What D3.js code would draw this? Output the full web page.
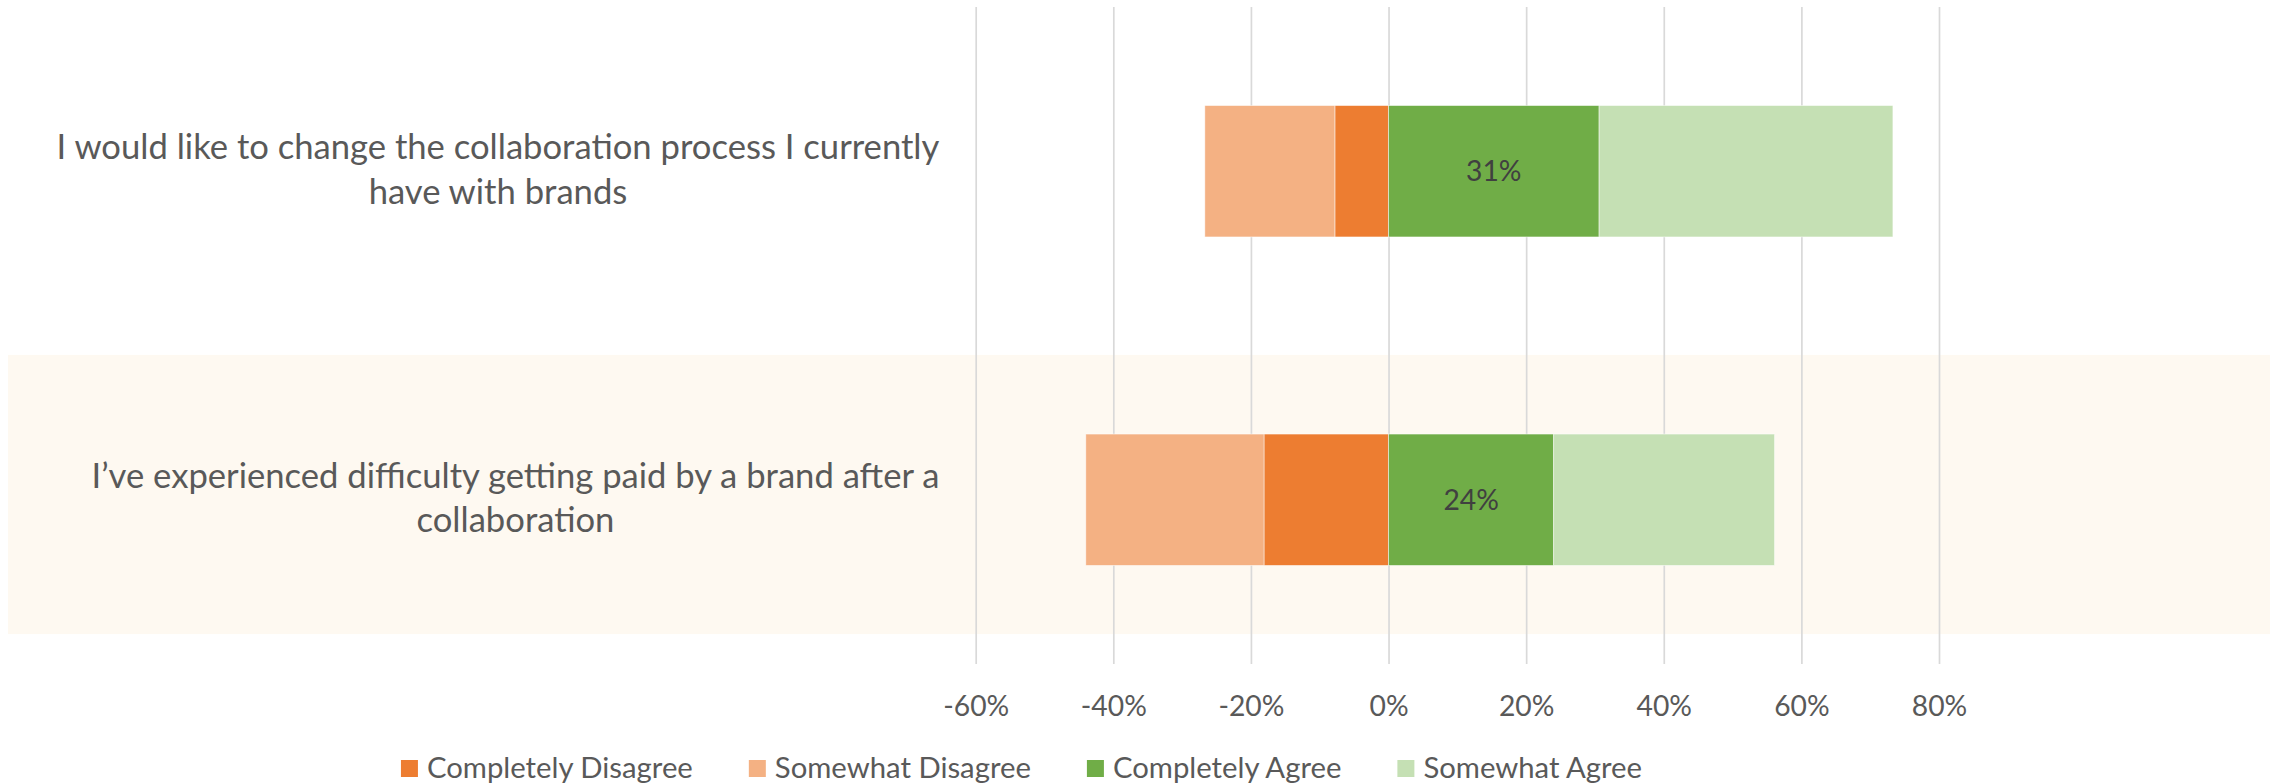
<!DOCTYPE html>
<html>
<head>
<meta charset="utf-8">
<script src="https://cdn.jsdelivr.net/npm/d3@7/dist/d3.min.js"></script>
<style>
  html, body { margin: 0; padding: 0; background: #ffffff; }
  svg { display: block; }
</style>
</head>
<body>
<svg id="chart" width="2277" height="784"></svg>
<script>
// ---- data ----
const statements = [
  "I would like to change the collaboration process I currently have with brands",
  "I’ve experienced difficulty getting paid by a brand after a collaboration"
];
const statementLines = [
  ["I would like to change the collaboration process I currently", "have with brands"],
  ["I’ve experienced difficulty getting paid by a brand after a", "collaboration"]
];
const seriesNames = ["Completely Disagree", "Somewhat Disagree", "Completely Agree", "Somewhat Agree"];
const completelyDisagree = [0.078, 0.181];
const somewhatDisagree   = [0.189, 0.259];
const completelyAgree    = [0.306, 0.240];
const somewhatAgree      = [0.427, 0.321];
const tickValues = [-0.6, -0.4, -0.2, 0, 0.2, 0.4, 0.6, 0.8];
const tickLabels = ["-60%", "-40%", "-20%", "0%", "20%", "40%", "60%", "80%"];

// ---- styling ----
const colors = {
  "Completely Disagree": "#ED7D31",
  "Somewhat Disagree": "#F4B183",
  "Completely Agree": "#70AD47",
  "Somewhat Agree": "#C5E0B4"
};
const textColor = "#595959";
const fontFamily = "Lato, 'Open Sans', sans-serif";

const svg = d3.select("#chart");
const plot = { left: 975.7, right: 1939, top: 7, bottom: 664 };

// pick a font size so that a given string spans the wanted width
function fitSize(str, targetWidth) {
  const probe = svg.append("text")
    .attr("font-family", fontFamily).attr("font-size", 32).text(str);
  const w = probe.node().getComputedTextLength();
  probe.remove();
  return 32 * targetWidth / w;
}
const fs = fitSize(statementLines[0][0], 883);
const fsTick = fitSize("-60%", 66);
const fsLegend = fitSize("Completely Disagree", 266);

// ---- scales ----
const x = d3.scaleLinear().domain([-0.6, 0.8]).range([plot.left, plot.right]);
const y = d3.scaleBand().domain(statements).range([plot.top, plot.bottom])
  .paddingInner(0.6).paddingOuter(0.3);

// highlight band behind the second statement
const bandStep = y.step();
svg.append("rect")
  .attr("x", 8).attr("width", 2262)
  .attr("y", y(statements[1]) + y.bandwidth() / 2 - bandStep * 0.441)
  .attr("height", bandStep * 0.85)
  .attr("fill", "#FEF9F1");

// ---- gridlines ----
const grid = svg.append("g")
  .attr("transform", `translate(0,${plot.bottom})`)
  .call(d3.axisBottom(x).tickValues(tickValues).tickSize(-(plot.bottom - plot.top)).tickFormat(""));
grid.select(".domain").remove();
grid.selectAll("line").attr("stroke", "#D9D9D9").attr("stroke-width", 1.7);

// ---- stacked diverging bars ----
const rows = statements.map((s, i) => ({
  statement: s,
  "Completely Disagree": completelyDisagree[i],
  "Somewhat Disagree": somewhatDisagree[i],
  "Completely Agree": completelyAgree[i],
  "Somewhat Agree": somewhatAgree[i]
}));

const segments = [];
rows.forEach(r => {
  const cd = r["Completely Disagree"], sd = r["Somewhat Disagree"];
  const ca = r["Completely Agree"], sa = r["Somewhat Agree"];
  segments.push({ statement: r.statement, key: "Completely Disagree", x0: -cd, x1: 0, value: cd });
  segments.push({ statement: r.statement, key: "Somewhat Disagree", x0: -cd - sd, x1: -cd, value: sd });
  segments.push({ statement: r.statement, key: "Completely Agree", x0: 0, x1: ca, value: ca });
  segments.push({ statement: r.statement, key: "Somewhat Agree", x0: ca, x1: ca + sa, value: sa });
});

svg.append("g").selectAll("rect")
  .data(segments)
  .join("rect")
  .attr("x", d => x(d.x0))
  .attr("width", d => x(d.x1) - x(d.x0))
  .attr("y", d => y(d.statement))
  .attr("height", y.bandwidth())
  .attr("fill", d => colors[d.key])
  .attr("stroke", "#ffffff")
  .attr("stroke-width", 0.8)
  .attr("stroke-opacity", 0.6);

// value labels on the "Completely Agree" segments
svg.append("g").selectAll("text")
  .data(segments.filter(d => d.key === "Completely Agree"))
  .join("text")
  .attr("x", d => (x(d.x0) + x(d.x1)) / 2)
  .attr("y", d => y(d.statement) + y.bandwidth() / 2)
  .attr("dy", "0.35em")
  .attr("text-anchor", "middle")
  .attr("font-family", fontFamily)
  .attr("font-size", fsTick)
  .attr("fill", "#404040")
  .text(d => d3.format(".0%")(d.value));

// ---- category labels (block right-aligned, lines centred) ----
const labelRight = 939.4;
statements.forEach((s, i) => {
  const g = svg.append("g");
  const cy = y(s) + y.bandwidth() / 2;
  const texts = g.selectAll("text")
    .data(statementLines[i])
    .join("text")
    .attr("font-family", fontFamily)
    .attr("font-size", fs)
    .attr("fill", textColor)
    .attr("text-anchor", "middle")
    .attr("y", (d, j) => cy - 12 + j * 44.5)
    .text(d => d);
  const maxW = d3.max(texts.nodes(), n => n.getComputedTextLength());
  texts.attr("x", labelRight - maxW / 2);
});

// ---- x-axis tick labels ----
const axis = svg.append("g")
  .attr("transform", `translate(0,716)`)
  .call(d3.axisBottom(x).tickValues(tickValues).tickSize(0)
    .tickFormat((d, i) => tickLabels[i]));
axis.select(".domain").remove();
axis.selectAll("text")
  .attr("y", 0).attr("dy", 0)
  .attr("font-family", fontFamily)
  .attr("font-size", fsTick)
  .attr("fill", textColor);

// ---- legend ----
const legend = svg.append("g");
const items = legend.selectAll("g")
  .data(seriesNames)
  .join("g");
items.append("rect")
  .attr("width", 17).attr("height", 17)
  .attr("y", 760)
  .attr("fill", d => colors[d]);
items.append("text")
  .attr("x", 26)
  .attr("y", 777.5)
  .attr("font-family", fontFamily)
  .attr("font-size", fsLegend)
  .attr("fill", textColor)
  .text(d => d);
let cursor = 0;
const offsets = [];
items.each(function () {
  const w = d3.select(this).select("text").node().getComputedTextLength();
  offsets.push(cursor);
  cursor += 26 + w + 56;
});
const legendWidth = cursor - 56;
const legendStart = 1021.5 - legendWidth / 2;
items.attr("transform", (d, i) => `translate(${legendStart + offsets[i]},0)`);
</script>
</body>
</html>
